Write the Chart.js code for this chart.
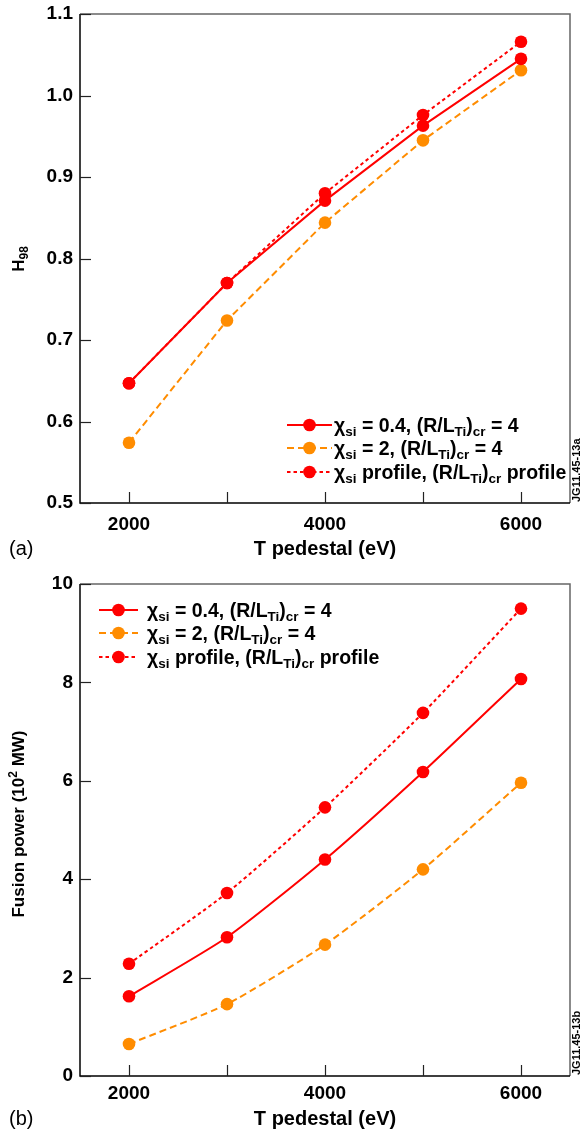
<!DOCTYPE html>
<html>
<head>
<meta charset="utf-8">
<script src="https://cdn.jsdelivr.net/npm/chart.js@4.4.0/dist/chart.umd.min.js"></script>
<style>
html, body { margin: 0; padding: 0; background: #fff; }
.box { position: absolute; left: 0; width: 581px; }
</style>
</head>
<body>
<div class="box" style="top:0;height:568px"><canvas id="chartA"></canvas></div>
<div class="box" style="top:568px;height:567px"><canvas id="chartB"></canvas></div>
<script>
// T pedestal (eV)
var tPed = [2000, 3000, 4000, 5000, 6000];
var xTicks = [2000, 3000, 4000, 5000, 6000];
var xLabels = [2000, 4000, 6000];

// (a) H98
var h98Low = [0.647, 0.770, 0.871, 0.963, 1.045];
var h98High = [0.574, 0.724, 0.844, 0.945, 1.031];
var h98Prof = [0.647, 0.770, 0.880, 0.976, 1.066];
var h98Ticks = [0.5, 0.6, 0.7, 0.8, 0.9, 1.0, 1.1];

// (b) fusion power (10^2 MW)
var powLow = [1.62, 2.82, 4.40, 6.18, 8.07];
var powHigh = [0.65, 1.46, 2.67, 4.20, 5.96];
var powProf = [2.28, 3.72, 5.46, 7.38, 9.50];
var powTicks = [0, 2, 4, 6, 8, 10];

// legend text, 0 = normal, 1 = subscript, 2 = superscript
var legendText = [
    [['χ', 0], ['si', 1], [' = 0.4, (R/L', 0], ['Ti', 1], [')', 0], ['cr', 1], [' = 4', 0]],
    [['χ', 0], ['si', 1], [' = 2, (R/L', 0], ['Ti', 1], [')', 0], ['cr', 1], [' = 4', 0]],
    [['χ', 0], ['si', 1], [' profile, (R/L', 0], ['Ti', 1], [')', 0], ['cr', 1], [' profile', 0]]
];

var RED = '#ff0000';
var ORANGE = '#ff8c00';
var FONT = '"Liberation Sans", Helvetica, Arial, sans-serif';
var styles = [
    { color: RED, dash: [] },
    { color: ORANGE, dash: [7, 4] },
    { color: RED, dash: [3.5, 3] }
];

function fontOf(size, bold) {
    return (bold ? 'bold ' : '') + size + 'px ' + FONT;
}

function richWidth(ctx, parts, size, small) {
    var w = 0;
    parts.forEach(function (p) {
        ctx.font = fontOf(p[1] ? small : size, true);
        w += ctx.measureText(p[0]).width;
    });
    return w;
}

function drawRich(ctx, parts, x, y, size, small, align) {
    if (align === 'center') x -= richWidth(ctx, parts, size, small) / 2;
    ctx.textAlign = 'left';
    ctx.textBaseline = 'alphabetic';
    parts.forEach(function (p) {
        ctx.font = fontOf(p[1] ? small : size, true);
        var dy = p[1] === 1 ? 4 : (p[1] === 2 ? -7 : 0);
        ctx.fillText(p[0], x, y + dy);
        x += ctx.measureText(p[0]).width;
    });
}

var decor = {
    id: 'decor',
    afterDraw: function (chart, args, o) {
        var ctx = chart.ctx;
        var a = chart.chartArea;
        var xs = chart.scales.x, ys = chart.scales.y;
        ctx.save();
        // frame: left/bottom black, top/right grey
        ctx.lineWidth = 1.5;
        ctx.strokeStyle = '#666';
        ctx.beginPath();
        ctx.moveTo(a.left, a.top); ctx.lineTo(a.right, a.top); ctx.lineTo(a.right, a.bottom);
        ctx.stroke();
        ctx.strokeStyle = '#000';
        ctx.beginPath();
        ctx.moveTo(a.left, a.top); ctx.lineTo(a.left, a.bottom); ctx.lineTo(a.right, a.bottom);
        ctx.stroke();
        // inward ticks
        ctx.lineWidth = 1.2;
        ctx.strokeStyle = '#222';
        o.yTicks.forEach(function (v) {
            var py = Math.round(ys.getPixelForValue(v)) + 0.5;
            ctx.beginPath(); ctx.moveTo(a.left, py); ctx.lineTo(a.left + 11, py); ctx.stroke();
        });
        xTicks.forEach(function (v) {
            var px = Math.round(xs.getPixelForValue(v)) + 0.5;
            ctx.beginPath(); ctx.moveTo(px, a.bottom); ctx.lineTo(px, a.bottom - 11); ctx.stroke();
        });
        ctx.fillStyle = '#000';
        // x title and panel letter
        drawRich(ctx, [['T pedestal (eV)', 0]], (a.left + a.right) / 2, o.xTitleY, 20, 14, 'center');
        ctx.font = fontOf(20, false);
        ctx.fillText(o.panel, 9, o.xTitleY);
        // y title
        ctx.save();
        ctx.translate(24, o.yTitleY);
        ctx.rotate(-Math.PI / 2);
        drawRich(ctx, o.yTitle, 0, 0, 17, 12, 'center');
        ctx.restore();
        // figure code
        ctx.save();
        ctx.translate(580, a.bottom - 1);
        ctx.rotate(-Math.PI / 2);
        ctx.font = fontOf(11, true);
        ctx.textAlign = 'left';
        ctx.textBaseline = 'alphabetic';
        ctx.fillText(o.code, 0, 0);
        ctx.restore();
        // legend
        o.legendY.forEach(function (ly, i) {
            var s = styles[i];
            ctx.strokeStyle = s.color;
            ctx.fillStyle = s.color;
            ctx.lineWidth = 2;
            ctx.setLineDash(s.dash);
            ctx.beginPath(); ctx.moveTo(o.legendX0, ly); ctx.lineTo(o.legendX1, ly); ctx.stroke();
            ctx.setLineDash([]);
            ctx.beginPath(); ctx.arc((o.legendX0 + o.legendX1) / 2, ly, 6.3, 0, Math.PI * 2); ctx.fill();
            ctx.fillStyle = '#000';
            drawRich(ctx, legendText[i], o.legendText, ly + 7, 19.5, 13.5, 'left');
        });
        ctx.restore();
    }
};

function makeSets(low, high, prof, tension) {
    return [low, high, prof].map(function (d, i) {
        return {
            data: d.map(function (v, j) { return { x: tPed[j], y: v }; }),
            borderColor: styles[i].color,
            backgroundColor: styles[i].color,
            borderDash: styles[i].dash,
            borderWidth: 2,
            pointRadius: 6.3,
            pointBorderWidth: 0,
            pointBackgroundColor: styles[i].color,
            tension: tension
        };
    });
}

function makeChart(id, sets, yMin, yMax, yTicks, yFmt, plotTop, plotBottom, canvasH, xPad, deco) {
    return new Chart(document.getElementById(id), {
        type: 'scatter',
        data: { datasets: sets },
        options: {
            responsive: true,
            maintainAspectRatio: false,
            animation: false,
            showLine: true,
            layout: { autoPadding: false, padding: { left: 0, right: 11, top: plotTop, bottom: 0 } },
            plugins: { legend: { display: false }, tooltip: { enabled: false }, decor: deco },
            scales: {
                x: {
                    type: 'linear', min: 1500, max: 6500,
                    afterBuildTicks: function (s) { s.ticks = xTicks.map(function (v) { return { value: v }; }); },
                    afterFit: function (s) {
                        s.height = canvasH - plotBottom;
                        s.paddingLeft = 0; s.paddingRight = 0;
                    },
                    grid: { display: false, drawTicks: false },
                    border: { display: false },
                    ticks: {
                        autoSkip: false, maxRotation: 0, padding: xPad, color: '#000',
                        font: { family: FONT, size: 19, weight: 'bold' },
                        callback: function (v) { return xLabels.indexOf(v) >= 0 ? String(v) : ''; }
                    }
                },
                y: {
                    type: 'linear', min: yMin, max: yMax,
                    afterBuildTicks: function (s) { s.ticks = yTicks.map(function (v) { return { value: v }; }); },
                    afterFit: function (s) {
                        s.width = 80;
                        s.paddingTop = 0; s.paddingBottom = 0;
                    },
                    grid: { display: false, drawTicks: false },
                    border: { display: false },
                    ticks: {
                        padding: 7, color: '#000',
                        font: { family: FONT, size: 19, weight: 'bold' },
                        callback: yFmt
                    }
                }
            }
        },
        plugins: [decor]
    });
}

makeChart('chartA', makeSets(h98Low, h98High, h98Prof, 0), 0.5, 1.1, h98Ticks,
    function (v) { return v.toFixed(1); }, 14, 503, 568, 10, {
        yTicks: h98Ticks, xTitleY: 555, panel: '(a)', yTitleY: 259,
        yTitle: [['H', 0], ['98', 1]], code: 'JG11.45-13a',
        legendX0: 287, legendX1: 332, legendText: 334, legendY: [425, 448, 472]
    });

makeChart('chartB', makeSets(powLow, powHigh, powProf, 0.2), 0, 10, powTicks,
    function (v) { return String(v); }, 16, 508, 567, 6, {
        yTicks: powTicks, xTitleY: 557, panel: '(b)', yTitleY: 256,
        yTitle: [['Fusion power (10', 0], ['2', 2], [' MW)', 0]], code: 'JG11.45-13b',
        legendX0: 99, legendX1: 138, legendText: 147, legendY: [42, 65, 89]
    });
</script>
</body>
</html>
